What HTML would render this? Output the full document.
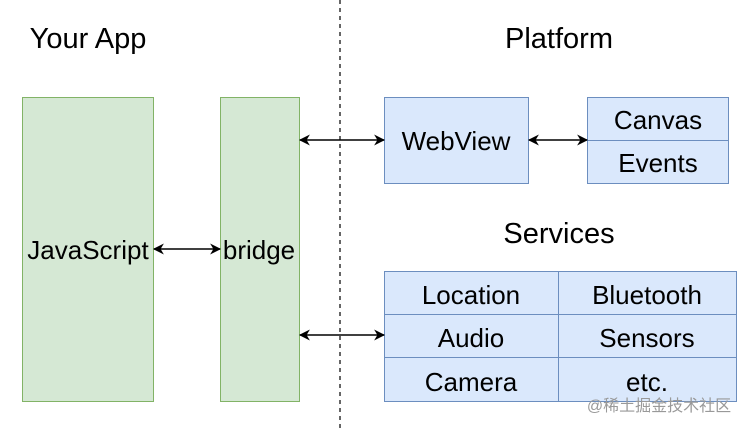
<!DOCTYPE html>
<html><head><meta charset="utf-8"><style>
body{margin:0;background:#fff;}
text{font-family:"Liberation Sans",Helvetica,Arial,sans-serif;fill:#000;}
</style></head><body>
<svg width="740" height="428" viewBox="0 0 740 428" xmlns="http://www.w3.org/2000/svg">
<defs>
<marker id="a" viewBox="0 0 10 10" refX="9" refY="5" markerWidth="12" markerHeight="11" orient="auto-start-reverse" markerUnits="userSpaceOnUse">
<path d="M0,0 L10,5 L0,10 L3,5 Z" fill="#000"/></marker>
</defs>
<line x1="340" y1="0" x2="340" y2="428" stroke="#000" stroke-width="1.2" stroke-dasharray="4,4"/>
<text x="88" y="48" font-size="29" text-anchor="middle">Your App</text>
<text x="559" y="48" font-size="29" text-anchor="middle">Platform</text>
<text x="559" y="243" font-size="29" text-anchor="middle">Services</text>
<rect x="22.5" y="97.5" width="131" height="304" fill="#d5e8d4" stroke="#82b366"/>
<rect x="220.5" y="97.5" width="79" height="304" fill="#d5e8d4" stroke="#82b366"/>
<text x="88" y="259" font-size="26" text-anchor="middle">JavaScript</text>
<text x="259" y="259" font-size="26" text-anchor="middle">bridge</text>
<rect x="384.5" y="97.5" width="144" height="86" fill="#dae8fc" stroke="#6c8ebf"/>
<text x="456" y="150" font-size="26" text-anchor="middle">WebView</text>
<rect x="587.5" y="97.5" width="141" height="43" fill="#dae8fc" stroke="#6c8ebf"/>
<rect x="587.5" y="140.5" width="141" height="43" fill="#dae8fc" stroke="#6c8ebf"/>
<text x="658" y="129" font-size="26" text-anchor="middle">Canvas</text>
<text x="658" y="172" font-size="26" text-anchor="middle">Events</text>
<g fill="#dae8fc" stroke="#6c8ebf">
<rect x="384.5" y="271.5" width="174" height="43"/><rect x="558.5" y="271.5" width="178" height="43"/>
<rect x="384.5" y="314.5" width="174" height="43"/><rect x="558.5" y="314.5" width="178" height="43"/>
<rect x="384.5" y="357.5" width="174" height="44"/><rect x="558.5" y="357.5" width="178" height="44"/>
</g>
<g font-size="26" text-anchor="middle">
<text x="471" y="304">Location</text><text x="647" y="304">Bluetooth</text>
<text x="471" y="347">Audio</text><text x="647" y="347">Sensors</text>
<text x="471" y="391">Camera</text><text x="647" y="391">etc.</text>
</g>
<g stroke="#000" stroke-width="1.5" marker-start="url(#a)" marker-end="url(#a)">
<line x1="300" y1="140" x2="384" y2="140"/>
<line x1="529" y1="140" x2="587" y2="140"/>
<line x1="154" y1="249" x2="220" y2="249"/>
<line x1="300" y1="335" x2="384" y2="335"/>
</g>
<text x="659" y="411" font-size="16" style="fill:#999" text-anchor="middle">@稀土掘金技术社区</text>
</svg>
</body></html>
